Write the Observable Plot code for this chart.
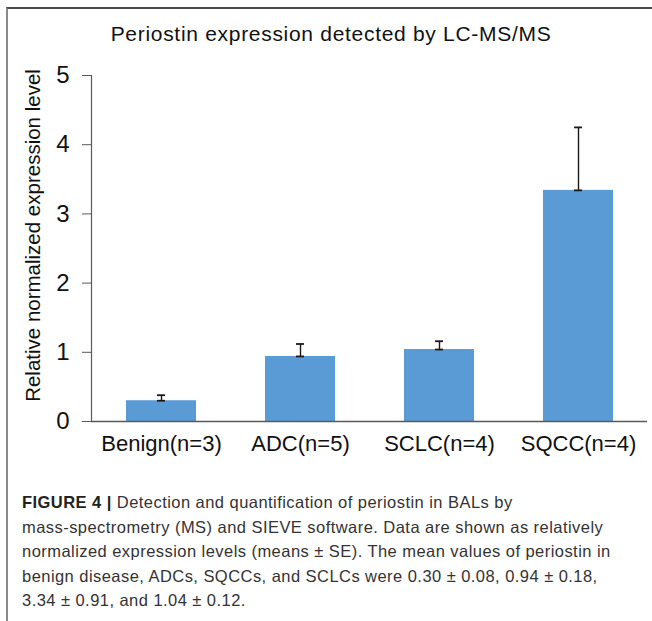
<!DOCTYPE html>
<html>
<head>
<meta charset="utf-8">
<script src="https://cdn.jsdelivr.net/npm/d3@7"></script>
<script src="https://cdn.jsdelivr.net/npm/@observablehq/plot@0.6"></script>
<style>
  html, body { margin: 0; padding: 0; background: #fff; }
  body { width: 652px; height: 621px; position: relative; overflow: hidden; font-family: "Liberation Sans", Arial, sans-serif; }
  #frame { position: absolute; left: 6px; top: 7px; width: 646px; height: 614px; border-top: 2px solid #4a4a4a; border-left: 2px solid #8a8a8a; box-sizing: border-box; }
  #title { position: absolute; left: 0; width: 662px; top: 20px; text-align: center; font-size: 21px; letter-spacing: 0.7px; line-height: 28px; color: #111; }
  #chart { position: absolute; left: 0; top: 40px; }
  #caption { position: absolute; left: 22px; top: 490px; width: 628px; font-size: 16.5px; letter-spacing: 0.45px; line-height: 24.6px; color: #333; white-space: nowrap; }
  #caption b { color: #222; }
</style>
</head>
<body>
<div id="frame"></div>
<div id="title">Periostin expression detected by LC-MS/MS</div>
<div id="chart"></div>
<div id="caption"><b>FIGURE 4 |</b> Detection and quantification of periostin in BALs by<br>mass-spectrometry (MS) and SIEVE software. Data are shown as relatively<br>normalized expression levels (means ± SE). The mean values of periostin in<br>benign disease, ADCs, SQCCs, and SCLCs were 0.30 ± 0.08, 0.94 ± 0.18,<br>3.34 ± 0.91, and 1.04 ± 0.12.</div>
<script>
const categories = ["Benign(n=3)", "ADC(n=5)", "SCLC(n=4)", "SQCC(n=4)"];
const means = [0.30, 0.94, 1.04, 3.34];
const errors = [0.08, 0.18, 0.12, 0.91];
const yTicks = [0, 1, 2, 3, 4, 5];
const yLabel = "Relative normalized expression level";

const data = categories.map((c, i) => ({group: c, mean: means[i], se: errors[i], top: means[i] + errors[i]}));

const chart = Plot.plot({
  width: 652,
  height: 430,
  marginTop: 35,
  marginBottom: 49,
  marginLeft: 91,
  marginRight: 5,
  style: {fontFamily: "'Liberation Sans', Arial, sans-serif", color: "#595959", background: "transparent", overflow: "visible"},
  x: {domain: categories, paddingInner: 0.5, paddingOuter: 0.25},
  y: {domain: [0, 5]},
  marks: [
    Plot.barY(data, {x: "group", y: "mean", fill: "#5B9BD5"}),
    Plot.ruleX(data, {x: "group", y1: "mean", y2: "top", stroke: "#1a1a1a", strokeWidth: 1.4}),
    Plot.tickY(data, {x: "group", y: "top", stroke: "#1a1a1a", strokeWidth: 1.8, insetLeft: 31, insetRight: 31}),
    Plot.tickY(data, {x: "group", y: "mean", stroke: "#1a1a1a", strokeWidth: 1.8, insetLeft: 31, insetRight: 31}),
    Plot.ruleY([0], {stroke: "#595959", strokeWidth: 1.5}),
    Plot.frame({anchor: "left", stroke: "#595959", strokeWidth: 1.2}),
    Plot.axisY({ticks: yTicks, tickSize: 9, tickPadding: 13, fontSize: 24, tickFormat: d3.format("d"), label: null, stroke: "#595959", fill: "#111"}),
    Plot.axisX({tickSize: 0, tickPadding: 14, fontSize: 22, label: null, fill: "#111"}),
    Plot.text([yLabel], {frameAnchor: "left", textAnchor: "middle", rotate: -90, dx: -58, dy: -13, fontSize: 20.5, fill: "#111"})
  ]
});
document.getElementById("chart").appendChild(chart);
</script>
</body>
</html>
